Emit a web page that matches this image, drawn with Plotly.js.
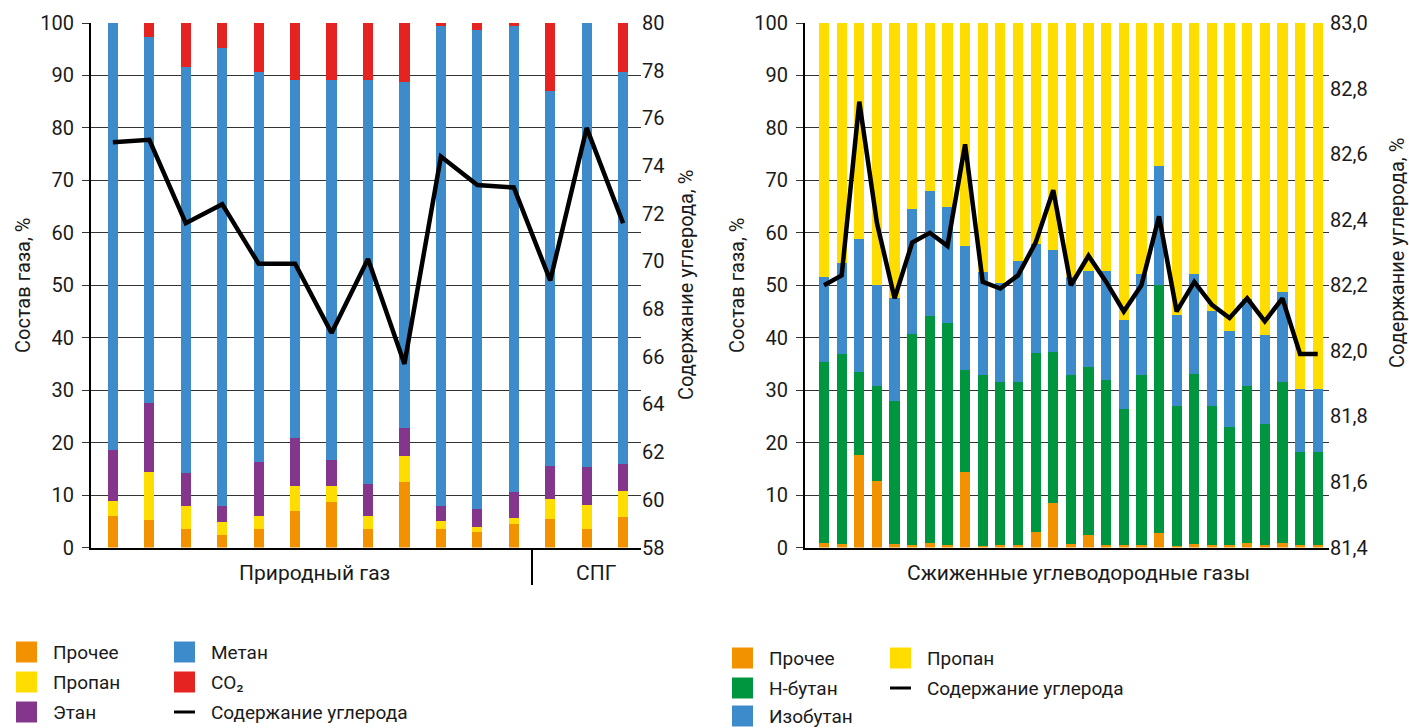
<!DOCTYPE html>
<html>
<head>
<meta charset="utf-8">
<script src="https://cdn.plot.ly/plotly-3.0.1.min.js"></script>
<style>
html,body{margin:0;padding:0;background:#fff;}
#chart{width:1409px;height:728px;}
</style>
</head>
<body>
<div id="chart"></div>
<script>
// ---------- Data: natural gas (left) ----------
const ngIdx = [0,1,2,3,4,5,6,7,8,9,10,11,12,13,14];
const ngOther   = [6.0,5.2,3.5,2.3,3.6,6.9,8.7,3.6,12.5,3.6,2.9,4.4,5.5,3.6,5.8];
const ngPropane = [2.8,9.2,4.4,2.5,2.5,4.9,3.1,2.5,4.9,1.5,1.1,1.2,3.8,4.5,5.0];
const ngEthane  = [9.8,13.2,6.4,3.2,10.2,9.0,4.9,6.0,5.3,2.9,3.4,5.0,6.2,7.2,5.1];
const ngMethane = [81.4,69.7,77.3,87.2,74.4,68.4,72.5,77.0,66.0,91.5,91.2,88.8,71.6,84.7,74.8];
const ngCO2     = [0,2.7,8.4,4.8,9.3,10.8,10.8,10.9,11.3,0.5,1.4,0.6,12.9,0,9.3];
const ngCarbon  = [75.0,75.1,71.6,72.4,69.9,69.9,67.0,70.1,65.7,74.4,73.2,73.1,69.2,75.6,71.6];

// ---------- Data: LPG (right) ----------
const lpgIdx = Array.from({length:29},(_,i)=>i);
const lpgOther    = [0.8,0.6,17.6,12.6,0.6,0.5,0.8,0.5,14.4,0.2,0.5,0.5,3.0,8.4,0.6,2.3,0.4,0.4,0.4,2.7,0.3,0.7,0.5,0.5,0.9,0.5,0.9,0.5,0.5];
const lpgNButane  = [34.5,36.3,15.8,18.1,27.3,40.2,43.4,42.3,19.5,32.6,31.0,31.0,34.0,28.9,32.2,32.1,31.5,26.0,32.4,47.4,26.6,32.4,26.4,22.5,29.8,23.0,30.6,17.8,17.8];
const lpgIsoButane= [16.3,17.4,25.5,19.4,19.6,23.9,23.8,22.2,23.5,19.7,18.9,23.1,20.9,19.5,18.8,18.3,20.8,16.9,19.4,22.7,17.5,19.1,18.2,18.3,16.6,17.0,17.2,11.9,11.9];
const lpgPropane  = [48.4,45.7,41.1,49.9,52.5,35.4,32.0,35.0,42.6,47.5,49.6,45.4,42.1,43.2,48.4,47.3,47.3,56.7,47.8,27.2,55.6,47.8,54.9,58.7,52.7,59.5,51.3,69.8,69.8];
const lpgCarbon   = [82.20,82.23,82.76,82.39,82.16,82.33,82.36,82.32,82.63,82.21,82.19,82.23,82.33,82.49,82.20,82.29,82.21,82.12,82.20,82.41,82.12,82.21,82.14,82.10,82.16,82.09,82.16,81.99,81.99];

// ---------- Labels ----------
const leftLegendNames  = ['Прочее','Пропан','Этан','Метан','CO₂','Содержание углерода'];
const rightLegendNames = ['Прочее','Н-бутан','Изобутан','Пропан','Содержание углерода'];
const groupLabels = ['Природный газ','СПГ','Сжиженные углеводородные газы'];
const yTitleLeft = 'Состав газа, %';
const yTitleRight = 'Содержание углерода, %';

// ---------- Styles ----------
const C = {orange:'#F39200', yellow:'#FFDD00', purple:'#84368C', blue:'#3D8BCB', red:'#E52421', green:'#00963F'};
const FONT = 'Roboto, sans-serif';
const TXT = '#1a1a1a';
const W = 1409, H = 728;
const px = x => x / W;
const py = y => 1 - y / H;

function bar(x, y, color, name, xa, ya, w){
  return {type:'bar', x:x, y:y, name:name, xaxis:xa, yaxis:ya, width:w,
    marker:{color:color, line:{width:0}}, showlegend:false, hoverinfo:'y'};
}

const wL = 0.28, wR = 0.58;
const traces = [
  bar(ngIdx, ngOther, C.orange, 'Прочее', 'x', 'y', wL),
  bar(ngIdx, ngPropane, C.yellow, 'Пропан', 'x', 'y', wL),
  bar(ngIdx, ngEthane, C.purple, 'Этан', 'x', 'y', wL),
  bar(ngIdx, ngMethane, C.blue, 'Метан', 'x', 'y', wL),
  bar(ngIdx, ngCO2, C.red, 'CO₂', 'x', 'y', wL),
  {type:'scatter', mode:'lines', x:ngIdx, y:ngCarbon, xaxis:'x', yaxis:'y2',
   line:{color:'#000', width:4.5}, showlegend:false, name:'Содержание углерода'},
  bar(lpgIdx, lpgOther, C.orange, 'Прочее', 'x2', 'y3', wR),
  bar(lpgIdx, lpgNButane, C.green, 'Н-бутан', 'x2', 'y3', wR),
  bar(lpgIdx, lpgIsoButane, C.blue, 'Изобутан', 'x2', 'y3', wR),
  bar(lpgIdx, lpgPropane, C.yellow, 'Пропан', 'x2', 'y3', wR),
  {type:'scatter', mode:'lines', x:lpgIdx, y:lpgCarbon, xaxis:'x2', yaxis:'y4',
   line:{color:'#000', width:4.5}, showlegend:false, name:'Содержание углерода'}
];

const yDom = [py(547.5), py(23)];
const tickFont = {family:FONT, size:20, color:TXT};

const leftY = {
  domain: yDom, range:[0,100], dtick:10, tick0:0,
  ticks:'outside', ticklen:7, tickwidth:1, tickcolor:'#333',
  showline:true, linewidth:2, linecolor:'#000',
  showgrid:true, gridcolor:'#333', gridwidth:1, zeroline:false,
  tickfont:tickFont, ticklabelstandoff:4, fixedrange:true
};

const layout = {
  width:W, height:H, margin:{l:0,r:0,t:0,b:0},
  paper_bgcolor:'#fff', plot_bgcolor:'rgba(0,0,0,0)',
  barmode:'stack', showlegend:false, separators:',.',
  font:{family:FONT, color:TXT},
  xaxis:{domain:[px(91), px(641)], range:[-0.6, 14.49], anchor:'y',
    showticklabels:false, ticks:'', showgrid:false, zeroline:false,
    showline:true, linewidth:2, linecolor:'#000'},
  yaxis:Object.assign({anchor:'x'}, leftY),
  yaxis2:{overlaying:'y', side:'right', anchor:'x', range:[58,80], dtick:2, tick0:58,
    showgrid:false, zeroline:false, showline:false, ticks:'', tickfont:tickFont},
  xaxis2:{domain:[px(805), px(1329)], range:[-1.08, 28.64], anchor:'y3',
    showticklabels:false, ticks:'', showgrid:false, zeroline:false,
    showline:true, linewidth:2, linecolor:'#000'},
  yaxis3:Object.assign({anchor:'x2'}, leftY),
  yaxis4:{overlaying:'y3', side:'right', anchor:'x2', range:[81.4,83.0], dtick:0.2, tick0:81.4,
    tickformat:'.1f', showgrid:false, zeroline:false, showline:false, ticks:'', tickfont:tickFont},
  annotations:[],
  shapes:[]
};

const ann = layout.annotations, shp = layout.shapes;
function txt(x, y, t, size, opts){
  ann.push(Object.assign({xref:'paper', yref:'paper', x:px(x), y:py(y), text:t, showarrow:false,
    font:{family:FONT, size:size, color:TXT}, xanchor:'center', yanchor:'middle'}, opts||{}));
}
// axis titles
txt(23, 285, yTitleLeft, 20, {textangle:-90});
txt(686, 285, yTitleRight, 20, {textangle:-90});
txt(737, 285, yTitleLeft, 20, {textangle:-90});
txt(1397, 253, yTitleRight, 20, {textangle:-90});
// group labels
txt(314, 573, groupLabels[0], 21);
txt(596, 573, groupLabels[1], 21);
txt(1078, 573, groupLabels[2], 21);
// separator between natural gas and LNG
shp.push({type:'line', xref:'x', yref:'paper', x0:11.5, x1:11.5, y0:py(585), y1:py(548),
  line:{color:'#000', width:2}});

// custom legends
function sq(x, y, color){
  shp.push({type:'rect', xref:'paper', yref:'paper', x0:px(x), x1:px(x+21), y0:py(y+10.5), y1:py(y-10.5),
    fillcolor:color, line:{width:0}});
}
function ln(x, y){
  shp.push({type:'line', xref:'paper', yref:'paper', x0:px(x), x1:px(x+21), y0:py(y), y1:py(y),
    line:{color:'#000', width:3}});
}
function lt(x, y, t){ txt(x, y, t, 19, {xanchor:'left'}); }

const leftCols = [C.orange, C.yellow, C.purple, C.blue, C.red];
const leftPos = [[16,652],[16,682],[16,712],[174,652],[174,682],[174,712]];
leftLegendNames.forEach((n,i)=>{
  const [x,y] = leftPos[i];
  if (i < 5) sq(x,y,leftCols[i]); else ln(x,y);
  lt(x+35, y, n);
});
const rightCols = [C.orange, C.green, C.blue, C.yellow];
const rightPos = [[732,658],[732,688],[732,716],[890,658],[890,688]];
rightLegendNames.forEach((n,i)=>{
  const [x,y] = rightPos[i];
  if (i < 4) sq(x,y,rightCols[i]); else ln(x,y);
  lt(x+35, y, n);
});

Plotly.newPlot('chart', traces, layout, {displayModeBar:false, staticPlot:true});
</script>
</body>
</html>
